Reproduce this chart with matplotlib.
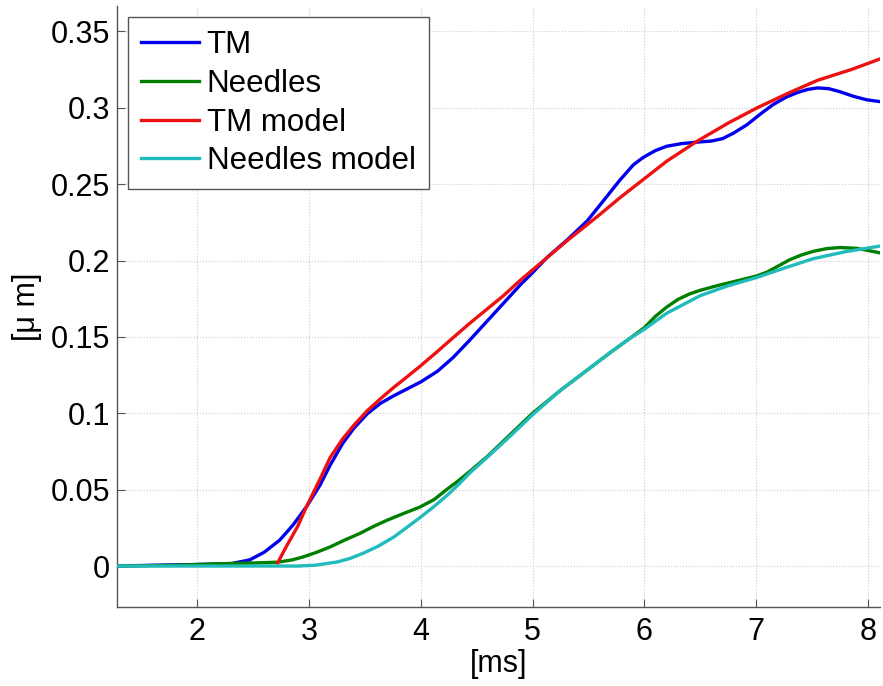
import matplotlib
matplotlib.use("Agg")
import matplotlib.pyplot as plt
import numpy as np

# values
tm_x = [1.28, 1.6, 2.0, 2.3, 2.47, 2.6, 2.74, 2.86, 2.98, 3.1, 3.19, 3.3, 3.4, 3.52, 3.64,
        3.76, 3.88, 4.0, 4.15, 4.29, 4.44, 4.59, 4.74, 4.89, 5.0, 5.13, 5.31, 5.49, 5.6,
        5.78, 5.9, 5.99, 6.1, 6.2, 6.33, 6.47, 6.6, 6.7, 6.8, 6.92, 7.04, 7.15, 7.27,
        7.37, 7.46, 7.55, 7.65, 7.75, 7.87, 7.99, 8.11]
tm_y = [0.0, 0.0005, 0.001, 0.0015, 0.004, 0.009, 0.017, 0.027, 0.039, 0.053, 0.066, 0.080,
        0.090, 0.0995, 0.1065, 0.1115, 0.116, 0.1205, 0.1275, 0.1365, 0.148, 0.160, 0.172,
        0.184, 0.192, 0.202, 0.2135, 0.226, 0.236, 0.2525, 0.2625, 0.2675, 0.272, 0.2748,
        0.2765, 0.2775, 0.2782, 0.2798, 0.2835, 0.289, 0.296, 0.302, 0.307, 0.310, 0.312,
        0.313, 0.3125, 0.3105, 0.3075, 0.3052, 0.304]

needles_x = [1.28, 1.8, 2.2, 2.5, 2.72, 2.85, 2.95, 3.07, 3.19, 3.32, 3.46, 3.58, 3.70, 3.85,
             3.99, 4.12, 4.24, 4.34, 4.44, 4.6, 4.8, 5.0, 5.25, 5.52, 5.7, 5.87, 6.0, 6.1,
             6.2, 6.3, 6.4, 6.5, 6.65, 6.79, 6.9, 7.01, 7.1, 7.2, 7.3, 7.4, 7.51, 7.63, 7.75,
             7.9, 8.11]
needles_y = [0.0, 0.0005, 0.0015, 0.002, 0.0025, 0.004, 0.006, 0.009, 0.0125, 0.017, 0.0215,
             0.026, 0.030, 0.0345, 0.0385, 0.0435, 0.0505, 0.056, 0.062, 0.072, 0.086, 0.100,
             0.115, 0.130, 0.140, 0.149, 0.156, 0.1635, 0.1695, 0.1745, 0.178, 0.1805,
             0.1835, 0.186, 0.188, 0.190, 0.1925, 0.1965, 0.2005, 0.2035, 0.206, 0.2078,
             0.2085, 0.208, 0.205]

tm_model_x = [2.72, 2.8, 2.9, 2.98, 3.1, 3.19, 3.3, 3.4, 3.52, 3.64, 3.76, 3.88, 3.99, 4.15,
              4.29, 4.44, 4.59, 4.74, 4.89, 5.1, 5.31, 5.6, 5.78, 5.99, 6.2, 6.47, 6.75,
              7.01, 7.3, 7.55, 7.85, 8.11]
tm_model_y = [0.002, 0.013, 0.026, 0.039, 0.057, 0.071, 0.083, 0.092, 0.1015, 0.1095, 0.117,
              0.124, 0.1305, 0.1405, 0.1495, 0.159, 0.168, 0.177, 0.187, 0.200, 0.213, 0.230,
              0.241, 0.253, 0.265, 0.278, 0.290, 0.300, 0.310, 0.318, 0.325, 0.332]

needles_model_x = [1.28, 2.0, 2.5, 2.9, 3.05, 3.25, 3.37, 3.49, 3.62, 3.76, 3.88, 3.99, 4.12,
                   4.24, 4.34, 4.44, 4.6, 4.8, 5.0, 5.25, 5.52, 5.7, 5.87, 6.0, 6.2, 6.5,
                   6.75, 7.01, 7.25, 7.51, 7.8, 8.11]
needles_model_y = [0.0, 0.0, 0.0, 0.0, 0.0005, 0.0026, 0.005, 0.0085, 0.013, 0.019, 0.0255,
                   0.0315, 0.039, 0.0465, 0.0535, 0.061, 0.0715, 0.085, 0.099, 0.115, 0.130,
                   0.140, 0.149, 0.155, 0.1655, 0.177, 0.1835, 0.189, 0.195, 0.2012, 0.2058,
                   0.2095]

x_ticks = [2, 3, 4, 5, 6, 7, 8]
y_ticks = [0, 0.05, 0.1, 0.15, 0.2, 0.25, 0.3, 0.35]
y_tick_labels = ["0", "0.05", "0.1", "0.15", "0.2", "0.25", "0.3", "0.35"]

plt.rcParams['font.family'] = ['Liberation Sans', 'DejaVu Sans']

fig = plt.figure(figsize=(8.83, 6.86), dpi=100)
ax = fig.add_axes([0.1325, 0.1152, 0.864, 0.876])

lw = 2.4
ax.plot(tm_x, tm_y, color='#0000ee', lw=lw, label='TM', zorder=3)
ax.plot(needles_x, needles_y, color='#007f00', lw=lw, label='Needles', zorder=3)
ax.plot(tm_model_x, tm_model_y, color='#ee1111', lw=lw, label='TM model', zorder=4)
ax.plot(needles_model_x, needles_model_y, color='#22bbbb', lw=lw, label='Needles model', zorder=4)

ax.set_xlim(1.284, 8.107)
ax.set_ylim(-0.0268, 0.3666)
ax.set_xticks(x_ticks)
ax.set_yticks(y_ticks)
ax.set_yticklabels(y_tick_labels)

ax.grid(True, color='#cccccc', linestyle=':', linewidth=0.8)
ax.spines['top'].set_visible(False)
ax.spines['right'].set_visible(False)
for s in ['left', 'bottom']:
    ax.spines[s].set_color('#555555')
    ax.spines[s].set_linewidth(1.0)
ax.tick_params(direction='in', length=6, width=0.8, color='#555555', labelsize=22)
ax.tick_params(axis='x', pad=7)
ax.tick_params(axis='y', pad=5)

ax.set_xlabel('[ms]', fontsize=22, labelpad=2)
ax.set_ylabel('[\u03bc m]', fontsize=22, labelpad=6)

leg = ax.legend(loc='upper left', fontsize=22.5, handlelength=1.85, handletextpad=0.25,
                borderaxespad=0.35, fancybox=False, framealpha=1, labelspacing=0.28,
                borderpad=0.42)
leg.get_frame().set_edgecolor('#555555')
leg.get_frame().set_linewidth(1.0)

fig.savefig('out.png', dpi=100)
